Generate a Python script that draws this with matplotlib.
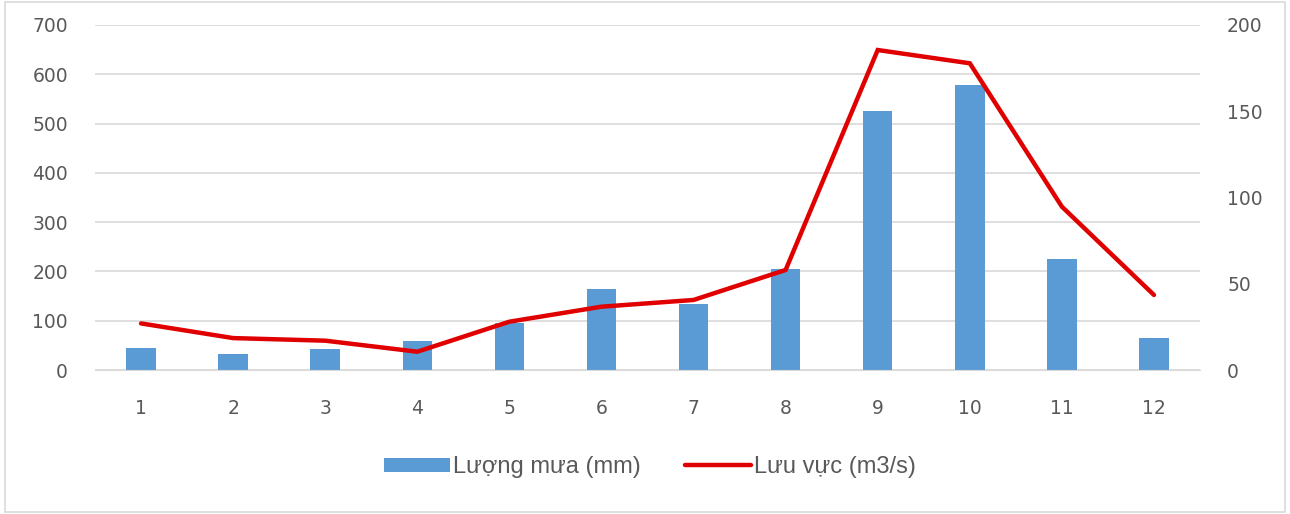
import numpy as np
import matplotlib
matplotlib.use("Agg")
import matplotlib.pyplot as plt
from matplotlib.patches import Rectangle

# data
months = ["1", "2", "3", "4", "5", "6", "7", "8", "9", "10", "11", "12"]
rainfall = [45, 32, 42, 59, 95, 165, 134, 205, 525, 579, 226, 64]       # mm
discharge = [27, 18.5, 17, 10.6, 28, 36.7, 40.6, 58, 185.5, 177.8, 94.7, 43.5]  # m3/s

bar_color = "#5b9bd5"
line_color = "#e00000"
text_color = "#595959"
grid_color = "#d9d9d9"

plt.rcParams['font.family'] = ['DejaVu Sans']

fig = plt.figure(figsize=(12.9, 5.14), dpi=100, facecolor='white')
ax = fig.add_axes([95/1290, 1-370/514, (1200-95)/1290, (370-25)/514])
ax2 = ax.twinx()

x = np.arange(len(months))
bars = ax.bar(x, rainfall, width=0.32, color=bar_color, label="Lượng mưa (mm)", zorder=2)
line, = ax2.plot(x, discharge, color=line_color, linewidth=3.2, label="Lưu vực (m3/s)",
                 solid_capstyle='round', solid_joinstyle='miter', zorder=3)

ax.set_xlim(-0.5, len(months) - 0.5)
ax.set_ylim(0, 700)
ax.set_yticks(range(0, 701, 100))
ax2.set_ylim(0, 200)
ax2.set_yticks(range(0, 201, 50))
ax.set_xticks(x)
ax.set_xticklabels(months)

ax.grid(axis='y', color=grid_color, linewidth=1.2, zorder=0)
ax.set_axisbelow(True)
for a in (ax, ax2):
    for s in a.spines.values():
        s.set_visible(False)
    a.tick_params(length=0, labelsize=13.5, colors=text_color)
ax.spines['bottom'].set_visible(True)
ax.spines['bottom'].set_color(grid_color)
ax.tick_params(axis='y', pad=19.5)
ax.tick_params(axis='x', pad=21)
ax2.tick_params(axis='y', pad=19.5)

fig.legend([bars, line], ["Lượng mưa (mm)", "Lưu vực (m3/s)"],
           loc='center', bbox_to_anchor=(650/1290, 1-467/514), ncol=2, frameon=False,
           prop={'family': ['Liberation Sans', 'DejaVu Sans'], 'size': 17},
           handlelength=2.8, handleheight=0.55, handletextpad=0.1,
           columnspacing=1.9, labelcolor=text_color)

fig.patches.append(Rectangle((5/1290, 0.003), 1280/1290, 0.994, transform=fig.transFigure,
                             fill=False, edgecolor='#d9d9d9', linewidth=1.2))

fig.savefig("out.png", dpi=100, facecolor='white')
